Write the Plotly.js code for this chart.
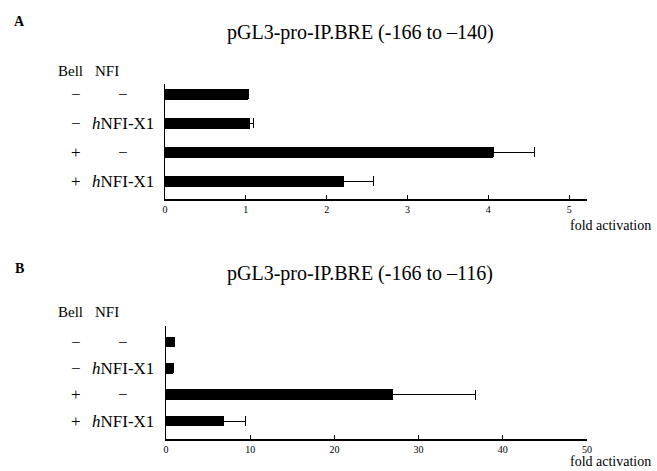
<!DOCTYPE html>
<html><head><meta charset="utf-8">
<script src="https://cdn.plot.ly/plotly-3.0.1.min.js"></script>
<style>body{margin:0;background:#fff}#chart{width:657px;height:471px}</style>
</head><body><div id="chart"></div>
<script>
// Data
const rowIds = ["r1","r2","r3","r4"];
const bellLabels = ["\u2212","\u2212","+","+"];
const nfiLabels = ["\u2212","<i>h</i>NFI-X1","\u2212","<i>h</i>NFI-X1"];
const foldA = [1.03, 1.05, 4.06, 2.21];
const errA = [0, 0.05, 0.51, 0.37];
const foldB = [0.95, 0.87, 26.9, 6.8];
const errB = [0, 0, 9.9, 2.7];
const titleA = "pGL3-pro-IP.BRE (-166 to \u2013140)";
const titleB = "pGL3-pro-IP.BRE (-166 to \u2013116)";
const ticksA = [0,1,2,3,4,5];
const ticksB = [0,10,20,30,40,50];

const W = 657, H = 471;
const px = v => v / W;
const py = v => 1 - v / H;
const serif = "Liberation Serif";

const zeros = a => a.map(() => 0);
const traces = [
  {type:"bar", orientation:"h", x:foldA, y:rowIds, xaxis:"x", yaxis:"y",
   marker:{color:"#000"}, width:0.38,
   error_x:{type:"data", array:errA, arrayminus:zeros(errA), symmetric:false, color:"#000", thickness:1, width:5},
   hoverinfo:"none"},
  {type:"bar", orientation:"h", x:foldB, y:rowIds, xaxis:"x2", yaxis:"y2",
   marker:{color:"#000"}, width:0.4,
   error_x:{type:"data", array:errB, arrayminus:zeros(errB), symmetric:false, color:"#000", thickness:1, width:5},
   hoverinfo:"none"}
];

const axX = (dom, range, ticks, anchor) => ({
  domain: dom, range: range, anchor: anchor, showgrid:false, zeroline:false,
  showline:true, linecolor:"#000", linewidth:1.5, ticks:"inside", ticklen:4, tickcolor:"#000", tickwidth:1,
  tickvals: ticks, ticktext: ticks.map(String), tickfont:{family:serif, size:10, color:"#000"}, fixedrange:true
});
const axY = (dom, range, anchor) => ({
  domain: dom, range: range, anchor: anchor, type:"category", showgrid:false, zeroline:false,
  showline:true, linecolor:"#000", linewidth:1.5, ticks:"", showticklabels:false, fixedrange:true
});

const annotations = [];
function addPanel(letter, letterY, title, titleY, headerY, yref, foldY) {
  annotations.push({text:"<b>"+letter+"</b>", x:px(19), y:py(letterY), xref:"paper", yref:"paper", showarrow:false,
    font:{family:serif, size:14, color:"#000"}, xanchor:"center", yanchor:"middle"});
  annotations.push({text:title, x:px(360), y:py(titleY), xref:"paper", yref:"paper", showarrow:false,
    font:{family:serif, size:20, color:"#000"}, xanchor:"center", yanchor:"middle"});
  annotations.push({text:"Bell", x:px(70), y:py(headerY), xref:"paper", yref:"paper", showarrow:false,
    font:{family:serif, size:15, color:"#000"}, xanchor:"center", yanchor:"middle"});
  annotations.push({text:"NFI", x:px(107), y:py(headerY), xref:"paper", yref:"paper", showarrow:false,
    font:{family:serif, size:15, color:"#000"}, xanchor:"center", yanchor:"middle"});
  rowIds.forEach((r, i) => {
    annotations.push({text:bellLabels[i], x:px(76), y:i, xref:"paper", yref:yref, showarrow:false,
      font:{family:serif, size:17, color:"#000"}, xanchor:"center", yanchor:"middle"});
    annotations.push({text:nfiLabels[i], x:px(123), y:i, xref:"paper", yref:yref, showarrow:false,
      font:{family:serif, size:17, color:"#000"}, xanchor:"center", yanchor:"middle"});
  });
  annotations.push({text:"fold activation", x:px(610), y:py(foldY), xref:"paper", yref:"paper", showarrow:false,
    font:{family:serif, size:14, color:"#000"}, xanchor:"center", yanchor:"middle"});
}
addPanel("A", 22, titleA, 33, 71, "y", 225);
addPanel("B", 268, titleB, 273, 312, "y2", 461);

const layout = {
  width: W, height: H, margin:{l:0, r:0, t:0, b:0}, showlegend:false,
  paper_bgcolor:"#fff", plot_bgcolor:"rgba(0,0,0,0)", bargap:0,
  xaxis: axX([px(165), px(587)], [0, 5.22], ticksA, "y"),
  yaxis: axY([py(199), py(84)], [3.62, -0.345], "x"),
  xaxis2: axX([px(166), px(587)], [0, 50], ticksB, "y2"),
  yaxis2: axY([py(439), py(326)], [3.68, -0.61], "x2"),
  annotations: annotations
};
Plotly.newPlot("chart", traces, layout, {displayModeBar:false, staticPlot:true});
</script></body></html>
